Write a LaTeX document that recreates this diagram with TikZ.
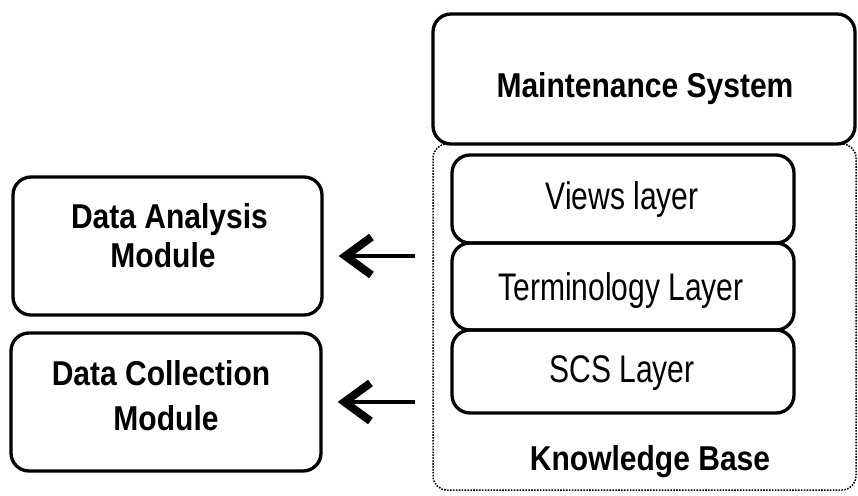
\documentclass[tikz,border=0pt]{standalone}
\usepackage{fontspec}
\setmainfont{Liberation Sans}
\newfontfamily\headfont[FakeStretch=0.87]{Liberation Sans}
\newfontfamily\layerfont[FakeStretch=0.78]{Liberation Sans}
\usetikzlibrary{arrows.meta,calc}

\begin{document}
\begin{tikzpicture}[x=1pt,y=-1pt,
  box/.style={draw, line width=3.3pt, rounded corners=18pt, inner sep=0pt},
  kbframe/.style={draw, line width=1.5pt, dash pattern=on 1.6pt off 1.3pt,
                  rounded corners=14pt, inner sep=0pt},
  headtxt/.style={font=\headfont\bfseries\fontsize{34.5}{40}\selectfont,
                  anchor=base, inner sep=0pt},
  layertxt/.style={font=\layerfont\fontsize{38.5}{44}\selectfont,
                   anchor=base, inner sep=0pt},
  feed/.style={line width=4pt,
               -{Straight Barb[length=26pt,width=38pt,line width'=8pt]},
               shorten >=15pt}]
  \useasboundingbox (0,0) rectangle (858,495);

  % knowledge base frame and maintenance system on top of it
  \node[kbframe, minimum width=423pt, minimum height=346pt] (kb) at (644.5,317) {};
  \node[box, minimum width=422pt, minimum height=130pt] (ms) at (644,79) {};
  \node[headtxt] (mst) at (645,97) {Maintenance System};

  % the three stacked layers
  \node[box, minimum width=342pt, minimum height=88pt] (views) at (623,199) {};
  \node[box, minimum width=342pt, minimum height=87pt] (term) at (623,286.5) {};
  \node[box, minimum width=342pt, minimum height=83pt] (scs) at (623,371.5) {};
  \node[layertxt] (viewst) at (622,209) {Views layer};
  \node[layertxt] (termt) at (621,300) {Terminology Layer};
  \node[layertxt] (scst) at (622,382) {SCS Layer};
  \node[headtxt] (kbt) at (650,470) {Knowledge Base};

  % modules on the left
  \node[box, minimum width=309pt, minimum height=138pt] (dam) at (167.5,246) {};
  \node[headtxt] (damt1) at (169.5,228) {Data Analysis};
  \node[headtxt] (damt2) at (163,267) {Module};
  \node[box, minimum width=310pt, minimum height=138pt] (dcm) at (166,402) {};
  \node[headtxt] (dcmt1) at (161,385) {Data Collection};
  \node[headtxt] (dcmt2) at (166,430) {Module};

  % arrows towards the modules
  \coordinate (a1) at (415,256);
  \coordinate (a2) at (415,402);
  \draw[feed] (a1) -- (a1 -| dam.east);
  \draw[feed] (a2) -- (a2 -| dcm.east);
\end{tikzpicture}
\end{document}
